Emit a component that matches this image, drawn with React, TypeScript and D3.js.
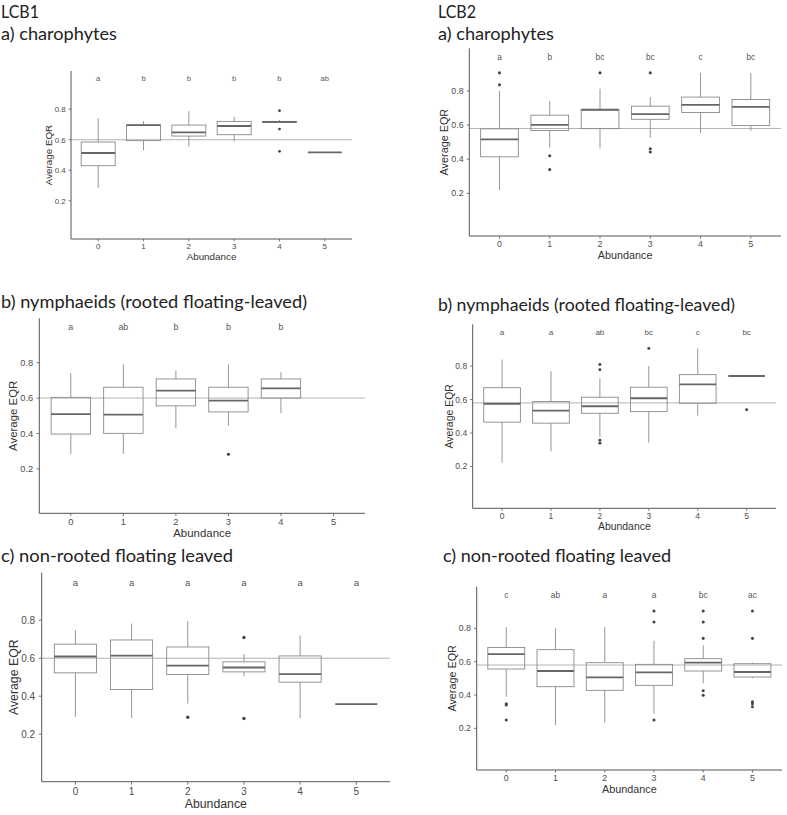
import React from "react";
import * as d3 from "d3";

// ---------- DATA ----------
const abundance = ["0", "1", "2", "3", "4", "5"];
const yTicks = [0.2, 0.4, 0.6, 0.8];
const lcb1Ref = 0.6;
const lcb2Ref = 0.58;

// boxes: [lowerWhisker, Q1, median, Q3, upperWhisker]
const lcb1CharoBoxes = [
  [0.285, 0.43, 0.513, 0.585, 0.74],
  [0.53, 0.594, 0.696, 0.696, 0.722],
  [0.555, 0.624, 0.648, 0.696, 0.787],
  [0.59, 0.633, 0.69, 0.72, 0.75],
  [0.71, 0.713, 0.717, 0.72, 0.73],
  [0.517, 0.517, 0.517, 0.517, 0.517],
];
const lcb1CharoOutliers = [[], [], [], [], [0.79, 0.67, 0.524], []];
const lcb1CharoLetters = ["a", "b", "b", "b", "b", "ab"];

const lcb2CharoBoxes = [
  [0.22, 0.414, 0.516, 0.578, 0.8],
  [0.469, 0.568, 0.601, 0.658, 0.74],
  [0.463, 0.579, 0.69, 0.69, 0.813],
  [0.526, 0.634, 0.664, 0.711, 0.764],
  [0.554, 0.674, 0.719, 0.764, 0.906],
  [0.566, 0.597, 0.707, 0.75, 0.906],
];
const lcb2CharoOutliers = [[0.906, 0.837], [0.42, 0.339], [0.906], [0.906, 0.461, 0.442], [], []];
const lcb2CharoLetters = ["a", "b", "bc", "bc", "c", "bc"];

const lcb1NymphBoxes = [
  [0.285, 0.397, 0.51, 0.604, 0.74],
  [0.285, 0.401, 0.507, 0.661, 0.79],
  [0.43, 0.556, 0.642, 0.708, 0.755],
  [0.445, 0.522, 0.586, 0.661, 0.79],
  [0.515, 0.6, 0.655, 0.708, 0.745],
  null,
];
const lcb1NymphOutliers = [[], [], [], [0.283], [], []];
const lcb1NymphLetters = ["a", "ab", "b", "b", "b", ""];

const lcb2NymphBoxes = [
  [0.222, 0.465, 0.575, 0.671, 0.839],
  [0.29, 0.459, 0.534, 0.588, 0.77],
  [0.378, 0.518, 0.56, 0.614, 0.727],
  [0.343, 0.528, 0.608, 0.674, 0.8],
  [0.504, 0.578, 0.691, 0.749, 0.906],
  [0.741, 0.741, 0.741, 0.741, 0.741],
];
const lcb2NymphOutliers = [[], [], [0.81, 0.778, 0.357, 0.339], [0.906], [], [0.539]];
const lcb2NymphLetters = ["a", "a", "ab", "bc", "c", "bc"];

const lcb1NonRootBoxes = [
  [0.291, 0.523, 0.609, 0.674, 0.747],
  [0.286, 0.435, 0.614, 0.696, 0.782],
  [0.361, 0.514, 0.561, 0.659, 0.795],
  [0.505, 0.528, 0.551, 0.581, 0.621],
  [0.284, 0.474, 0.516, 0.612, 0.719],
  [0.358, 0.358, 0.358, 0.358, 0.358],
];
const lcb1NonRootOutliers = [[], [], [0.289], [0.709, 0.283], [], []];
const lcb1NonRootLetters = ["a", "a", "a", "a", "a", "a"];

const lcb2NonRootBoxes = [
  [0.39, 0.556, 0.645, 0.685, 0.807],
  [0.22, 0.45, 0.544, 0.672, 0.8],
  [0.234, 0.428, 0.506, 0.594, 0.807],
  [0.29, 0.458, 0.536, 0.584, 0.726],
  [0.47, 0.544, 0.594, 0.618, 0.698],
  [0.5, 0.508, 0.538, 0.588, 0.595],
];
const lcb2NonRootOutliers = [
  [0.348, 0.34, 0.25],
  [],
  [],
  [0.904, 0.838, 0.25],
  [0.904, 0.838, 0.74, 0.426, 0.398],
  [0.904, 0.74, 0.36, 0.348, 0.33],
];
const lcb2NonRootLetters = ["c", "ab", "a", "a", "bc", "ac"];

// ---------- LAYOUT ----------
type Box = number[] | null;
interface PanelSpec {
  left: number; top: number; right: number; bottom: number; s: number;
  boxes: Box[]; outliers: number[][]; letters: string[]; ref: number;
}

const panels: PanelSpec[] = [
  { left: 71, top: 71, right: 352, bottom: 239, s: 0.8, boxes: lcb1CharoBoxes, outliers: lcb1CharoOutliers, letters: lcb1CharoLetters, ref: lcb1Ref },
  { left: 469.3, top: 48.3, right: 781, bottom: 236, s: 0.88, boxes: lcb2CharoBoxes, outliers: lcb2CharoOutliers, letters: lcb2CharoLetters, ref: lcb2Ref },
  { left: 39.3, top: 318.3, right: 365, bottom: 513.3, s: 0.93, boxes: lcb1NymphBoxes, outliers: lcb1NymphOutliers, letters: lcb1NymphLetters, ref: lcb1Ref },
  { left: 472.7, top: 324.3, right: 776, bottom: 508.3, s: 0.85, boxes: lcb2NymphBoxes, outliers: lcb2NymphOutliers, letters: lcb2NymphLetters, ref: lcb2Ref },
  { left: 41.7, top: 572.7, right: 390, bottom: 781.7, s: 1.0, boxes: lcb1NonRootBoxes, outliers: lcb1NonRootOutliers, letters: lcb1NonRootLetters, ref: lcb1Ref },
  { left: 476.7, top: 586.7, right: 782, bottom: 770, s: 0.88, boxes: lcb2NonRootBoxes, outliers: lcb2NonRootOutliers, letters: lcb2NonRootLetters, ref: lcb2Ref },
];

const titles = [
  { text: "LCB1", x: 1, y: 11.5, w: 38 },
  { text: "a) charophytes", x: 1, y: 33.5, w: 116 },
  { text: "LCB2", x: 438, y: 12, w: 38 },
  { text: "a) charophytes", x: 438, y: 33.5, w: 116 },
  { text: "b) nymphaeids (rooted floating-leaved)", x: 1, y: 301.7, w: 306 },
  { text: "b) nymphaeids (rooted floating-leaved)", x: 438, y: 304.3, w: 297 },
  { text: "c)  non-rooted floating leaved", x: 1, y: 556, w: 232 },
  { text: "c) non-rooted floating leaved", x: 443, y: 556, w: 228 },
];

const FONT = "'Liberation Sans', Arial, sans-serif";

function Panel({ p }: { p: PanelSpec }) {
  const x = d3.scalePoint<string>().domain(abundance).range([p.left, p.right]).padding(0.6);
  const y = d3.scaleLinear().domain([-0.05, 1.05]).range([p.bottom, p.top]);
  const bw = x.step() * 0.75;
  const s = p.s;
  const fs = 10 * s;
  return (
    <g>
      {/* reference line */}
      <line x1={p.left} x2={p.right} y1={y(p.ref)} y2={y(p.ref)} stroke="#b3b3b3" strokeWidth={1} />
      {/* boxes */}
      {p.boxes.map((b, i) => {
        if (!b) return null;
        const cx = x(abundance[i])!;
        return (
          <g key={i}>
            <line x1={cx} x2={cx} y1={y(b[3])} y2={y(b[4])} stroke="#8a8a8a" strokeWidth={0.9} />
            <line x1={cx} x2={cx} y1={y(b[1])} y2={y(b[0])} stroke="#8a8a8a" strokeWidth={0.9} />
            <rect x={cx - bw / 2} y={y(b[3])} width={bw} height={Math.max(0, y(b[1]) - y(b[3]))}
              fill="white" fillOpacity={0} stroke="#8a8a8a" strokeWidth={0.9} />
            <line x1={cx - bw / 2} x2={cx + bw / 2} y1={y(b[2])} y2={y(b[2])} stroke="#666" strokeWidth={1.8} />
          </g>
        );
      })}
      {/* outliers */}
      {p.outliers.map((arr, i) =>
        arr.map((v, j) => (
          <circle key={`${i}-${j}`} cx={x(abundance[i])!} cy={y(v)} r={1.5 * s + 0.2} fill="#444" />
        ))
      )}
      {/* letters */}
      {p.letters.map((l, i) => (
        <text key={`l${i}`} x={x(abundance[i])!} y={y(1.0)} dy="0.35em" textAnchor="middle"
          fontSize={fs * 0.95} fill="#555" fontFamily={FONT}>{l}</text>
      ))}
      {/* axes */}
      <line x1={p.left} x2={p.left} y1={p.top} y2={p.bottom} stroke="#555" strokeWidth={1} />
      <line x1={p.left} x2={p.right} y1={p.bottom} y2={p.bottom} stroke="#555" strokeWidth={1} />
      {yTicks.map((t) => (
        <g key={`yt${t}`}>
          <line x1={p.left - 3 * s} x2={p.left} y1={y(t)} y2={y(t)} stroke="#555" strokeWidth={0.8} />
          <text x={p.left - 6.5 * s} y={y(t)} dy="0.35em" textAnchor="end" fontSize={fs} fill="#4d4d4d" fontFamily={FONT}>
            {t.toFixed(1)}
          </text>
        </g>
      ))}
      {abundance.map((a) => (
        <g key={`xt${a}`}>
          <line x1={x(a)!} x2={x(a)!} y1={p.bottom} y2={p.bottom + 3 * s} stroke="#555" strokeWidth={0.8} />
          <text x={x(a)!} y={p.bottom + 9.3 * s} dy="0.35em" textAnchor="middle" fontSize={fs} fill="#4d4d4d" fontFamily={FONT}>
            {a}
          </text>
        </g>
      ))}
      <text x={(p.left + p.right) / 2} y={p.bottom + 21.6 * s} dy="0.35em" textAnchor="middle" fontSize={12.3 * s}
        fill="#333" fontFamily={FONT}>Abundance</text>
      <text transform={`translate(${p.left - 28 * s},${(p.top + p.bottom) / 2}) rotate(-90)`} dy="0.35em"
        textAnchor="middle" fontSize={12.3 * s} fill="#333" fontFamily={FONT}>Average EQR</text>
    </g>
  );
}

export default function App() {
  return (
    <svg width={787} height={815} style={{ position: "absolute", left: 0, top: 0, background: "white" }}>
      <rect width={787} height={815} fill="white" />
      {titles.map((t, i) => (
        <text key={i} x={t.x} y={t.y} dy="0.35em" fontSize={18} fill="#222" fontFamily="Lato, 'Open Sans', sans-serif"
          textLength={t.w} lengthAdjust="spacingAndGlyphs">{t.text}</text>
      ))}
      {panels.map((p, i) => <Panel key={i} p={p} />)}
    </svg>
  );
}
